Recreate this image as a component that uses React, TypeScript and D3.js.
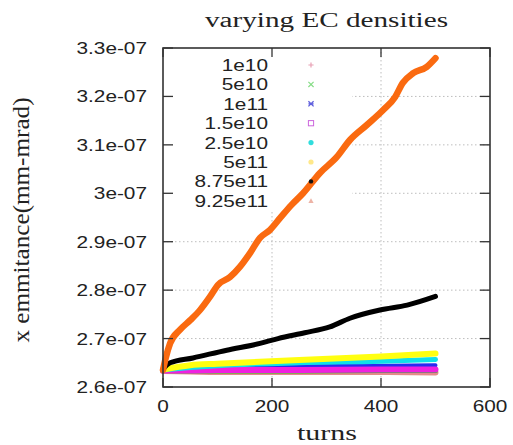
import React from "react";
import * as d3 from "d3";

const W = 513;
const H = 445;

const title = "varying EC densities";
const xLabel = "turns";
const yLabel = "x emmitance(mm-mrad)";

const xTicks = [0, 200, 400, 600];
const yTicks = [2.6e-7, 2.7e-7, 2.8e-7, 2.9e-7, 3.0e-7, 3.1e-7, 3.2e-7, 3.3e-7];
const yTickLabels = ["2.6e-07", "2.7e-07", "2.8e-07", "2.9e-07", "3e-07", "3.1e-07", "3.2e-07", "3.3e-07"];

const seriesNames = ["1e10", "5e10", "1e11", "1.5e10", "2.5e10", "5e11", "8.75e11", "9.25e11"];
const lineColors = ["#e58a8a", "#22cc22", "#2a2af0", "#f020e0", "#10e0e8", "#ffff10", "#000000", "#fa6a10"];
const markerColors = ["#e8a0b4", "#88dd88", "#6060dd", "#cc66dd", "#30dddd", "#ffe88a", "#111111", "#e8a090"];
const markerShapes = ["plus", "cross", "star", "square", "circle", "circleY", "dot", "triangle"];

const flatTurns = [0, 50, 100, 250, 400, 500];
const s1e10 = [2.633e-7, 2.632e-7, 2.631e-7, 2.631e-7, 2.631e-7, 2.630e-7];
const s5e10 = [2.634e-7, 2.633e-7, 2.633e-7, 2.633e-7, 2.634e-7, 2.634e-7];
const s1e11 = [2.636e-7, 2.641e-7, 2.642e-7, 2.644e-7, 2.644e-7, 2.645e-7];
const s15e10 = [2.634e-7, 2.634e-7, 2.635e-7, 2.635e-7, 2.636e-7, 2.636e-7];
const s25e10 = [2.635e-7, 2.640e-7, 2.644e-7, 2.650e-7, 2.653e-7, 2.657e-7];
const s5e11 = [2.636e-7, 2.645e-7, 2.648e-7, 2.656e-7, 2.663e-7, 2.669e-7];

const blackTurns = [0, 13, 55, 117, 178, 211, 260, 306, 343, 398, 448, 500];
const s875e11 = [2.637e-7, 2.65e-7, 2.66e-7, 2.676e-7, 2.69e-7, 2.70e-7, 2.712e-7, 2.724e-7, 2.742e-7, 2.759e-7, 2.769e-7, 2.787e-7];

const orangeTurns = [0, 5, 13, 31, 50, 68, 86, 101, 123, 141, 160, 178, 196, 215, 235, 257, 288, 319, 343, 374, 404, 426, 440, 459, 484, 500];
const s925e11 = [2.635e-7, 2.66e-7, 2.69e-7, 2.718e-7, 2.738e-7, 2.759e-7, 2.786e-7, 2.811e-7, 2.827e-7, 2.848e-7, 2.877e-7, 2.908e-7, 2.924e-7, 2.949e-7, 2.975e-7, 3.0e-7, 3.042e-7, 3.075e-7, 3.11e-7, 3.141e-7, 3.172e-7, 3.199e-7, 3.228e-7, 3.248e-7, 3.261e-7, 3.279e-7];

const seriesTurns = [flatTurns, flatTurns, flatTurns, flatTurns, flatTurns, flatTurns, blackTurns, orangeTurns];
const seriesValues = [s1e10, s5e10, s1e11, s15e10, s25e10, s5e11, s875e11, s925e11];
const seriesWidths = [6, 5, 4, 6, 5, 6, 5, 6.5];

const L = 163, R = 490, T = 48, B = 387;
const SX = 1.3;

export default function App() {
  const x = d3.scaleLinear().domain([0, 600]).range([L, R]);
  const y = d3.scaleLinear().domain([2.6e-7, 3.3e-7]).range([B, T]);
  const grid = "#bdbdbd";
  const frame = "#333";
  const sans = "'Liberation Sans', Arial, sans-serif";
  const serif = "'Liberation Serif', 'Times New Roman', serif";

  const keyRight = 352, keyBottom = 210;

  const marker = (shape: string, cx: number, cy: number, c: string) => {
    const s = 2.6;
    switch (shape) {
      case "plus":
        return <path d={`M${cx - s},${cy}H${cx + s}M${cx},${cy - s}V${cy + s}`} stroke={c} strokeWidth={1.2} />;
      case "cross":
        return <path d={`M${cx - s},${cy - s}L${cx + s},${cy + s}M${cx - s},${cy + s}L${cx + s},${cy - s}`} stroke={c} strokeWidth={1.2} />;
      case "star":
        return <path d={`M${cx - s},${cy - s}L${cx + s},${cy + s}M${cx - s},${cy + s}L${cx + s},${cy - s}M${cx - s},${cy}H${cx + s}`} stroke={c} strokeWidth={1.3} />;
      case "square":
        return <rect x={cx - s} y={cy - s} width={2 * s} height={2 * s} fill="none" stroke={c} strokeWidth={1} />;
      case "circle":
      case "circleY":
        return <circle cx={cx} cy={cy} r={2.6} fill={c} />;
      case "dot":
        return <circle cx={cx} cy={cy} r={2.2} fill={c} />;
      default:
        return <path d={`M${cx},${cy - s}L${cx + s},${cy + s * 0.8}L${cx - s},${cy + s * 0.8}Z`} fill={c} opacity={0.8} />;
    }
  };

  const lineGen = d3
    .line<[number, number]>()
    .x((d) => x(d[0]))
    .y((d) => y(d[1]))
    .curve(d3.curveMonotoneX);

  return (
    <svg width={W} height={H} style={{ position: "absolute", left: 0, top: 0, background: "#fff" }}>
      <rect x={0} y={0} width={W} height={H} fill="#fff" />
      {/* grid */}
      {yTicks.slice(1, -1).map((t) => (
        <line key={"gy" + t} x1={L} x2={R} y1={y(t)} y2={y(t)} stroke={grid} strokeWidth={1} strokeDasharray="1.5,2.5" />
      ))}
      {xTicks.slice(1, -1).map((t) => (
        <line key={"gx" + t} x1={x(t)} x2={x(t)} y1={T} y2={B} stroke={grid} strokeWidth={1} strokeDasharray="1.5,2.5" />
      ))}
      {/* key background */}
      <rect x={L + 1} y={T + 1} width={keyRight - L - 1} height={keyBottom - T - 1} fill="#fff" />
      {/* series */}
      {seriesValues.map((vals, i) => {
        const pts = vals.map((v, j) => [seriesTurns[i][j], v] as [number, number]);
        return (
          <path key={"s" + i} d={lineGen(pts) || ""} fill="none" stroke={lineColors[i]} strokeWidth={seriesWidths[i]} strokeLinejoin="round" strokeLinecap="round" />
        );
      })}
      {/* legend */}
      {seriesNames.map((n, i) => {
        const cy = 65 + i * 19.4;
        return (
          <g key={"lg" + n}>
            <text transform={`translate(268,${cy + 6}) scale(${SX},1)`} textAnchor="end" fontFamily={sans} fontSize={16} fill="#222">
              {n}
            </text>
            {marker(markerShapes[i], 311, cy, markerColors[i])}
          </g>
        );
      })}
      {/* ticks */}
      {yTicks.map((t) => (
        <g key={"ty" + t}>
          <line x1={L} x2={L + 10} y1={y(t)} y2={y(t)} stroke={frame} strokeWidth={1.3} />
          <line x1={R - 10} x2={R} y1={y(t)} y2={y(t)} stroke={frame} strokeWidth={1.3} />
        </g>
      ))}
      {xTicks.map((t) => (
        <g key={"tx" + t}>
          <line x1={x(t)} x2={x(t)} y1={B} y2={B - 9} stroke={frame} strokeWidth={1.3} />
          <line x1={x(t)} x2={x(t)} y1={T} y2={T + 9} stroke={frame} strokeWidth={1.3} />
        </g>
      ))}
      <rect x={L} y={T} width={R - L} height={B - T} fill="none" stroke={frame} strokeWidth={1.6} />
      {/* tick labels */}
      {yTicks.map((t, i) => (
        <text key={"yl" + t} transform={`translate(147,${y(t) + 6}) scale(${SX},1)`} textAnchor="end" fontFamily={sans} fontSize={16} fill="#222">
          {yTickLabels[i]}
        </text>
      ))}
      {xTicks.map((t) => (
        <text key={"xl" + t} transform={`translate(${x(t)},412) scale(${SX},1)`} textAnchor="middle" fontFamily={sans} fontSize={16} fill="#222">
          {String(t)}
        </text>
      ))}
      {/* titles */}
      <text x={326.5} y={27} textAnchor="middle" fontFamily={serif} fontSize={20} textLength={243} lengthAdjust="spacingAndGlyphs" fill="#222">
        {title}
      </text>
      <text x={327} y={440} textAnchor="middle" fontFamily={serif} fontSize={20} textLength={60} lengthAdjust="spacingAndGlyphs" fill="#222">
        {xLabel}
      </text>
      <text transform={`translate(29,220) rotate(-90) scale(1,1.2)`} textAnchor="middle" fontFamily={serif} fontSize={20} textLength={245} lengthAdjust="spacingAndGlyphs" fill="#222">
        {yLabel}
      </text>
    </svg>
  );
}
